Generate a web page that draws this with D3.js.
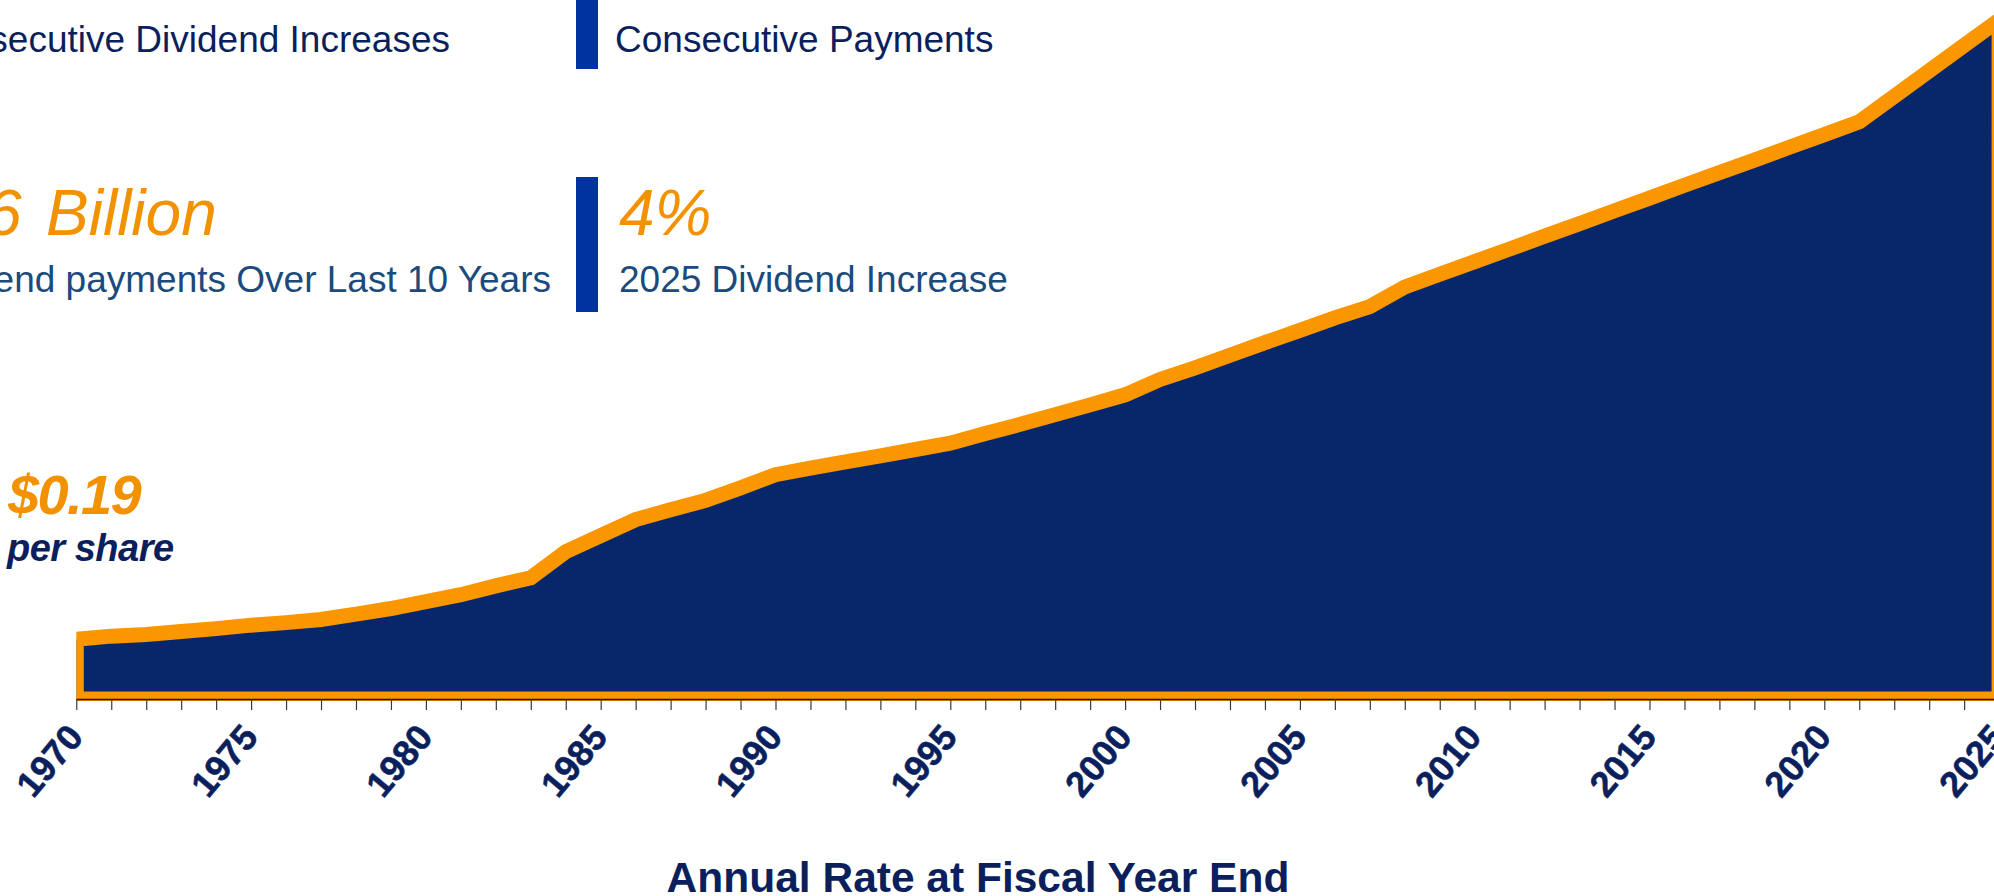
<!DOCTYPE html>
<html>
<head>
<meta charset="utf-8">
<script src="https://cdn.jsdelivr.net/npm/d3@7"></script>
<style>
  html, body { margin: 0; padding: 0; background: #ffffff; }
  svg { display: block; font-family: "Liberation Sans", Arial, sans-serif; }
</style>
</head>
<body>
<svg id="chart" width="1994" height="896"></svg>
<script>
// Fiscal years on the horizontal axis
const years = [
  1970, 1971, 1972, 1973, 1974, 1975, 1976, 1977, 1978, 1979,
  1980, 1981, 1982, 1983, 1984, 1985, 1986, 1987, 1988, 1989,
  1990, 1991, 1992, 1993, 1994, 1995, 1996, 1997, 1998, 1999,
  2000, 2001, 2002, 2003, 2004, 2005, 2006, 2007, 2008, 2009,
  2010, 2011, 2012, 2013, 2014, 2015, 2016, 2017, 2018, 2019,
  2020, 2021, 2022, 2023, 2024, 2025
];

// Annual dividend rate per share at fiscal year end (USD)
const dividends = [
  0.190, 0.200, 0.205, 0.215, 0.224, 0.235, 0.243, 0.253, 0.270, 0.288,
  0.310, 0.332, 0.360, 0.386, 0.469, 0.520, 0.571, 0.602, 0.632, 0.672,
  0.714, 0.735, 0.755, 0.774, 0.794, 0.814, 0.845, 0.874, 0.905, 0.936,
  0.968, 1.017, 1.054, 1.094, 1.134, 1.173, 1.213, 1.249, 1.311, 1.352,
  1.392, 1.432, 1.473, 1.513, 1.554, 1.594, 1.635, 1.675, 1.715, 1.756,
  1.796, 1.837, 1.918, 1.999, 2.080, 2.161
];

// Years that carry a tick label
const labelYears = [1970, 1975, 1980, 1985, 1990, 1995, 2000, 2005, 2010, 2015, 2020, 2025];

const axisTitle = "Annual Rate at Fiscal Year End";
const startLabel = { amount: "$0.19", unit: "per share" };

const NAVY = "#0a1f5c";
const FILL = "#08266a";
const ORANGE = "#fa9600";
const ORANGE_TEXT = "#f39200";
const STEEL = "#1b4a7c";
const BAR = "#0033a0";

const svg = d3.select("#chart");
const series = years.map((yr, i) => ({ year: yr, value: dividends[i] }));

const plot = { left: 76.3, right: 1999.1, top: 7.7, bottom: 699 };

const x = d3.scaleLinear().domain([1970, 2025]).range([plot.left, plot.right]);
const y = d3.scaleLinear().domain([0, 2.2]).range([plot.bottom, plot.top]);

// clip for the outlined area so the thick border stays inside the plot
svg.append("defs").append("clipPath").attr("id", "plotClip")
  .append("rect")
  .attr("x", plot.left).attr("y", 0)
  .attr("width", plot.right - plot.left).attr("height", plot.bottom + 2);

const area = d3.area()
  .x(d => x(d.year))
  .y0(y(0))
  .y1(d => y(d.value));

const g = svg.append("g").attr("clip-path", "url(#plotClip)");
g.append("path")
  .datum(series)
  .attr("d", area)
  .attr("fill", FILL)
  .attr("stroke", ORANGE)
  .attr("stroke-width", 15)
  .attr("stroke-linejoin", "miter");

// x axis
const axis = d3.axisBottom(x)
  .tickValues(years)
  .tickSize(11)
  .tickSizeOuter(0)
  .tickFormat(d => labelYears.includes(d) ? String(d) : "");

const ax = svg.append("g")
  .attr("transform", `translate(0,${plot.bottom})`)
  .call(axis);

ax.select(".domain").attr("stroke", "#1a1a1a").attr("stroke-width", 1.6);
ax.selectAll(".tick line").attr("stroke", "#3a3a3a").attr("stroke-width", 1.2);
ax.selectAll(".tick text")
  .attr("x", 0).attr("y", 0).attr("dy", 0)
  .attr("transform", "translate(8,39) rotate(-50)")
  .attr("text-anchor", "end")
  .attr("fill", NAVY)
  .attr("font-family", "'Liberation Sans', Arial, sans-serif")
  .attr("font-weight", "bold")
  .attr("font-size", 36)
  .attr("stroke", NAVY)
  .attr("stroke-width", 0.6);

// axis title
svg.append("text")
  .attr("x", 978).attr("y", 892)
  .attr("text-anchor", "middle")
  .attr("fill", NAVY)
  .attr("font-weight", "bold")
  .attr("font-size", 42.5)
  .text(axisTitle);

// starting value callout
svg.append("text")
  .attr("x", 8).attr("y", 514)
  .attr("fill", ORANGE_TEXT)
  .attr("font-weight", "bold").attr("font-style", "italic")
  .attr("font-size", 56)
  .attr("letter-spacing", -1.6)
  .text(startLabel.amount);
svg.append("text")
  .attr("x", 7).attr("y", 561)
  .attr("fill", NAVY)
  .attr("font-weight", "bold").attr("font-style", "italic")
  .attr("font-size", 38)
  .attr("letter-spacing", -0.5)
  .text(startLabel.unit);

// key facts header
svg.append("rect").attr("x", 576).attr("y", 0).attr("width", 22).attr("height", 69).attr("fill", BAR);
svg.append("rect").attr("x", 576).attr("y", 177).attr("width", 22).attr("height", 135).attr("fill", BAR);

svg.append("text")
  .attr("x", 450).attr("y", 52)
  .attr("text-anchor", "end")
  .attr("fill", NAVY).attr("font-size", 37)
  .text("Consecutive Dividend Increases");
svg.append("text")
  .attr("x", 615).attr("y", 52)
  .attr("fill", NAVY).attr("font-size", 37)
  .text("Consecutive Payments");

const billion = svg.append("text")
  .attr("y", 235)
  .attr("fill", ORANGE_TEXT).attr("font-style", "italic")
  .attr("font-size", 64);
billion.append("tspan").attr("x", -14).text("6");
billion.append("tspan").attr("x", 46).text("Billion");

svg.append("text")
  .attr("x", 619).attr("y", 235)
  .attr("fill", ORANGE_TEXT).attr("font-style", "italic")
  .attr("font-size", 64)
  .text("4%");

svg.append("text")
  .attr("x", 551).attr("y", 292)
  .attr("text-anchor", "end")
  .attr("fill", STEEL).attr("font-size", 37)
  .text("Dividend payments Over Last 10 Years");
svg.append("text")
  .attr("x", 619).attr("y", 292)
  .attr("fill", STEEL).attr("font-size", 37)
  .text("2025 Dividend Increase");
</script>
</body>
</html>
